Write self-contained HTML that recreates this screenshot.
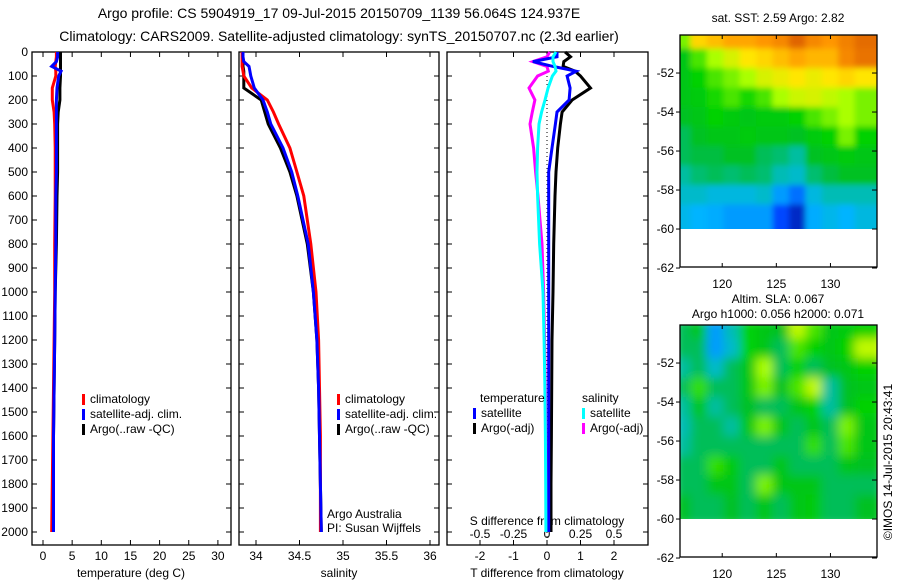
<!DOCTYPE html>
<html><head><meta charset="utf-8"><style>
html,body{margin:0;padding:0;background:#fff;}
svg{display:block;font-family:"Liberation Sans",sans-serif;}
text{font-size:12px;fill:#000;}
</style></head><body>
<svg id="c" width="900" height="580" viewBox="0 0 900 580" xmlns="http://www.w3.org/2000/svg">
<defs>
<clipPath id="cp1"><rect x="32" y="40" width="199" height="505"/></clipPath>
<clipPath id="cp2"><rect x="239" y="40" width="200" height="505"/></clipPath>
<clipPath id="cp3"><rect x="447" y="40" width="201" height="505"/></clipPath>
<clipPath id="cm1"><rect x="680" y="35" width="197" height="194"/></clipPath>
<clipPath id="cm2"><rect x="680" y="325" width="197" height="194"/></clipPath>
<filter id="blur"><feGaussianBlur stdDeviation="5"/></filter>
<filter id="blur1"><feGaussianBlur stdDeviation="3"/></filter>
</defs>
<text x="339" y="18" text-anchor="middle" style="font-size:14px">Argo profile: CS 5904919_17 09-Jul-2015 20150709_1139 56.064S 124.937E</text>
<text x="339" y="41" text-anchor="middle" style="font-size:14px">Climatology: CARS2009. Satellite-adjusted climatology: synTS_20150707.nc (2.3d earlier)</text>
<g id="g"></g>
</svg>
<script>
// depth levels (dbar)
const depths = [0,20,40,60,80,100,150,200,250,300,400,500,600,800,1000,1200,1400,1600,1800,2000];
// temperature (deg C)
const tempClim = [2.3,2.3,2.2,2.1,2.2,2.2,1.6,1.6,1.9,2.0,2.1,2.1,2.1,2.0,2.0,1.9,1.8,1.7,1.6,1.5];
const tempSat  = [2.5,2.5,2.3,1.5,3.1,2.7,2.4,2.3,2.3,2.3,2.3,2.3,2.2,2.2,2.1,2.0,1.9,1.8,1.8,1.8];
const tempArgo = [3.0,3.0,3.0,3.0,3.0,3.0,2.9,2.9,2.6,2.5,2.5,2.5,2.4,2.3,2.1,2.0,1.9,1.8,1.8,1.8];
// salinity
const salClim = [33.84,33.84,33.84,33.84,33.85,33.86,33.95,34.13,34.2,34.26,34.39,34.47,34.55,34.63,34.69,34.72,34.73,34.74,34.74,34.74];
const salSat  = [33.85,33.85,33.86,33.92,33.93,33.94,33.98,34.08,34.13,34.17,34.31,34.41,34.48,34.6,34.66,34.7,34.72,34.73,34.74,34.75];
const salArgo = [33.85,33.85,33.85,33.85,33.86,33.86,33.86,34.06,34.1,34.14,34.28,34.39,34.47,34.59,34.66,34.7,34.72,34.73,34.74,34.75];
// differences from climatology
const dTsat  = [0.3,0.3,-0.42,0.18,0.87,0.6,0.69,0.66,0.3,0.25,0.15,0.05,0.05,0.05,0.05,0.05,0.05,0.05,0.05,0.05];
const dTargo = [0.54,0.7,0.5,0.48,0.84,1.0,1.3,0.75,0.45,0.4,0.32,0.27,0.24,0.2,0.18,0.15,0.14,0.13,0.12,0.12];
const dSsat  = [0.067,0.045,0.045,0.06,0.067,0.04,0.008,-0.015,-0.04,-0.06,-0.07,-0.075,-0.07,-0.055,-0.03,-0.022,-0.016,-0.012,-0.01,-0.008];
const dSargo = [0.02,0.0,-0.105,0.0,0.01,-0.07,-0.134,-0.09,-0.11,-0.127,-0.1,-0.085,-0.067,-0.037,-0.025,-0.018,-0.012,-0.008,-0.006,-0.005];
// SST map (colormap index 0..1), rows north->south, cols west->east
const sstGrid = [
[0.6,0.72,0.75,0.78,0.78,0.8,0.82,0.87,0.82,0.8,0.83,0.86],
[0.5,0.58,0.62,0.66,0.7,0.72,0.75,0.78,0.76,0.76,0.82,0.85],
[0.5,0.55,0.58,0.6,0.62,0.66,0.68,0.7,0.68,0.7,0.72,0.7],
[0.5,0.52,0.56,0.58,0.56,0.58,0.62,0.65,0.66,0.64,0.62,0.6],
[0.48,0.5,0.55,0.52,0.5,0.52,0.52,0.55,0.58,0.6,0.62,0.6],
[0.45,0.48,0.5,0.5,0.52,0.5,0.5,0.48,0.52,0.55,0.6,0.55],
[0.45,0.46,0.46,0.48,0.48,0.45,0.44,0.42,0.48,0.5,0.52,0.5],
[0.42,0.44,0.45,0.44,0.45,0.44,0.4,0.38,0.44,0.46,0.48,0.48],
[0.38,0.38,0.36,0.36,0.36,0.38,0.3,0.25,0.36,0.4,0.4,0.4],
[0.35,0.33,0.32,0.3,0.3,0.3,0.2,0.1,0.32,0.35,0.33,0.36]];
const slaGrid = [
[0.45,0.5,0.3,0.4,0.55,0.5,0.48,0.64,0.58,0.5,0.52,0.55],
[0.45,0.45,0.3,0.38,0.55,0.5,0.45,0.58,0.55,0.5,0.55,0.64],
[0.42,0.45,0.38,0.45,0.5,0.62,0.45,0.55,0.45,0.48,0.5,0.55],
[0.45,0.57,0.45,0.45,0.5,0.6,0.48,0.58,0.64,0.42,0.48,0.5],
[0.42,0.5,0.42,0.45,0.48,0.45,0.45,0.5,0.55,0.42,0.48,0.55],
[0.4,0.45,0.45,0.42,0.5,0.6,0.5,0.45,0.5,0.45,0.6,0.5],
[0.42,0.45,0.45,0.45,0.45,0.45,0.45,0.45,0.57,0.45,0.58,0.5],
[0.45,0.45,0.57,0.52,0.45,0.45,0.5,0.45,0.45,0.45,0.5,0.48],
[0.45,0.45,0.5,0.5,0.45,0.6,0.5,0.5,0.5,0.45,0.45,0.45],
[0.48,0.45,0.45,0.48,0.45,0.5,0.45,0.5,0.52,0.45,0.45,0.48]];
const depthTicks = [0,100,200,300,400,500,600,700,800,900,1000,1100,1200,1300,1400,1500,1600,1700,1800,1900,2000];
const tempTicks = [0,5,10,15,20,25,30];
const salTicks = [34,34.5,35,35.5,36];
const salTickLabels = ["34","34.5","35","35.5","36"];
const tdTicks = [-2,-1,0,1,2];
const sdTicks = [-0.5,-0.25,0,0.25,0.5];
const sdTickLabels = ["-0.5","-0.25","0","0.25","0.5"];
const latTicks = [-52,-54,-56,-58,-60,-62];
const lonTicks = [120,125,130];

const NS="http://www.w3.org/2000/svg";
const G=document.getElementById('g');
function mk(tag,attrs,parent){const e=document.createElementNS(NS,tag);for(const k in attrs)e.setAttribute(k,attrs[k]);(parent||G).appendChild(e);return e;}
function txt(x,y,s,anchor,parent){const t=mk('text',{x:x,y:y,'text-anchor':anchor||'middle'},parent);t.textContent=s;return t;}

const yD=d=>52+d*0.24;
const xT=v=>43+v*5.83;
const xS=v=>256+(v-34)*87;
const xTd=v=>547+v*33.5;
const xSd=v=>547+v*134;
const PB=545;

function panel(x0,x1,name){
  const r=mk('rect',{x:x0,y:52,width:x1-x0,height:PB-52,fill:'none',stroke:'#000','stroke-width':1.3});
  
  
  depthTicks.forEach(d=>{const y=yD(d);mk('line',{x1:x0,x2:x0+5,y1:y,y2:y,stroke:'#000'});mk('line',{x1:x1,x2:x1-5,y1:y,y2:y,stroke:'#000'});});
}
panel(32,231,'temperature-panel');panel(239,439,'salinity-panel');panel(447,648,'difference-panel');
depthTicks.forEach(d=>{const t=txt(28,yD(d)+4,String(d),'end');

});

function xticks(arr,labels,fx,ly,top){arr.forEach((v,i)=>{const x=fx(v);mk('line',{x1:x,x2:x,y1:PB,y2:PB-5,stroke:'#000'});if(top)mk('line',{x1:x,x2:x,y1:52,y2:57,stroke:'#000'});const t=txt(x,ly,labels?labels[i]:String(v));

});}
xticks(tempTicks,null,xT,560,true);
xticks(salTicks,salTickLabels,xS,560,true);
xticks(tdTicks,null,xTd,560,false);
sdTicks.forEach((v,i)=>{const x=xSd(v);mk('line',{x1:x,x2:x,y1:52,y2:57,stroke:'#000'});const t=txt(x,538,sdTickLabels[i]);

});
let t;
t=txt(131,577,'temperature (deg C)');
t=txt(339,577,'salinity');
t=txt(547,577,'T difference from climatology');
t=txt(547,525,'S difference from climatology');

function line(vals,fx,color,clip,name,w){
  let d='';vals.forEach((v,i)=>{d+=(i?'L':'M')+fx(v).toFixed(1)+','+yD(depths[i]).toFixed(1);});
  const p=mk('path',{d:d,fill:'none',stroke:color,'stroke-width':w||3,'clip-path':'url(#'+clip+')'});
  
  
}
line(tempArgo,xT,'#000','cp1','temp-argo-line');
line(tempClim,xT,'#f00','cp1','temp-climatology-line');
line(tempSat,xT,'#00f','cp1','temp-satellite-line');
line(salArgo,xS,'#000','cp2','sal-argo-line');
line(salClim,xS,'#f00','cp2','sal-climatology-line');
line(salSat,xS,'#00f','cp2','sal-satellite-line');
mk('line',{x1:547,x2:547,y1:yD(100),y2:PB,stroke:'#000','stroke-dasharray':'1,3'});
line(dSargo,xSd,'#f0f','cp3','s-diff-argo-line');
line(dTargo,xTd,'#000','cp3','t-diff-argo-line');
line(dTsat,xTd,'#00f','cp3','t-diff-satellite-line');
line(dSsat,xSd,'#0ff','cp3','s-diff-satellite-line');

function legend(x,y,items,name){
  const g=mk('g',{});
  items.forEach((it,i)=>{const yy=y+i*15;if(it[0])mk('rect',{x:x,y:yy-9,width:3,height:11,fill:it[0]},g);txt(x+(it[0]?8:0),yy,it[1],'start',g);});
}
legend(82,403,[['#f00','climatology'],['#00f','satellite-adj. clim.'],['#000','Argo(..raw -QC)']],'temperature-legend');
legend(337,403,[['#f00','climatology'],['#00f','satellite-adj. clim.'],['#000','Argo(..raw -QC)']],'salinity-legend');
legend(473,402,[[null,''],['#00f','satellite'],['#000','Argo(-adj)']],'t-diff-legend');
legend(582,402,[[null,'salinity'],['#0ff','satellite'],['#f0f','Argo(-adj)']],'s-diff-legend');
t=txt(480,402,'temperature','start');
t=txt(327,518,'Argo Australia','start');
t=txt(327,532,'PI: Susan Wijffels','start');

// colormap
const stops=[[0,[0,16,140]],[0.2,[0,70,255]],[0.33,[0,180,255]],[0.42,[0,190,160]],[0.47,[0,190,40]],[0.55,[0,210,0]],[0.62,[170,255,0]],[0.7,[255,230,0]],[0.8,[255,150,0]],[0.9,[210,80,0]],[1,[160,0,0]]];
function cmap(v){for(let i=1;i<stops.length;i++){if(v<=stops[i][0]){const a=stops[i-1],b=stops[i],f=(v-a[0])/(b[0]-a[0]);return 'rgb('+a[1].map((c,k)=>Math.round(c+(b[1][k]-c)*f)).join(',')+')';}}return 'rgb(160,0,0)';}
const lonMin=116.1,lonMax=134.3;
const xL=l=>680+(l-lonMin)*(197/(lonMax-lonMin));
function map(grid,top,clip,name,blur){
  const yLat=la=>top+(-50.05-la)*19.5;
  const g=mk('g',{'clip-path':'url(#'+clip+')'});
  
  
  const inner=mk('g',{filter:'url(#'+blur+')'},g);
  const nr=grid.length,nc=grid[0].length;
  const lonStep=(lonMax-lonMin)/nc,latStep=10/nr;
  grid.forEach((row,r)=>row.forEach((v,c)=>{
    const x=xL(lonMin+c*lonStep),y=yLat(-50.05-r*latStep);
    mk('rect',{x:x-6,y:y-6,width:xL(lonMin+(c+1)*lonStep)-x+12,height:yLat(-50.05-(r+1)*latStep)-y+12,fill:cmap(v)},inner);
  }));
  mk('rect',{x:680,y:top,width:197,height:232,fill:'none',stroke:'#000','stroke-width':1.3});
  latTicks.forEach(la=>{const y=yLat(la);mk('line',{x1:877,x2:872,y1:y,y2:y,stroke:'#000'});mk('line',{x1:680,x2:676,y1:y,y2:y,stroke:'#000'});const tt=txt(674,y+4,String(la),'end');
  
  });
  lonTicks.forEach(lo=>{const x=xL(lo);mk('line',{x1:x,x2:x,y1:top+232,y2:top+228,stroke:'#000'});mk('line',{x1:x,x2:x,y1:top,y2:top+4,stroke:'#000'});const tt=txt(x,top+253,String(lo));
  
  });
}
map(sstGrid,35,'cm1','sst-map','blur1');
map(slaGrid,325,'cm2','sla-map','blur');
t=txt(778,22,'sat. SST: 2.59 Argo: 2.82');
t=txt(778,303,'Altim. SLA: 0.067');
t=txt(778,318,'Argo h1000: 0.056 h2000: 0.071');
t=txt(0,0,'©IMOS 14-Jul-2015 20:43:41');t.setAttribute('transform','translate(892,462) rotate(-90)');

</script>
</body></html>
